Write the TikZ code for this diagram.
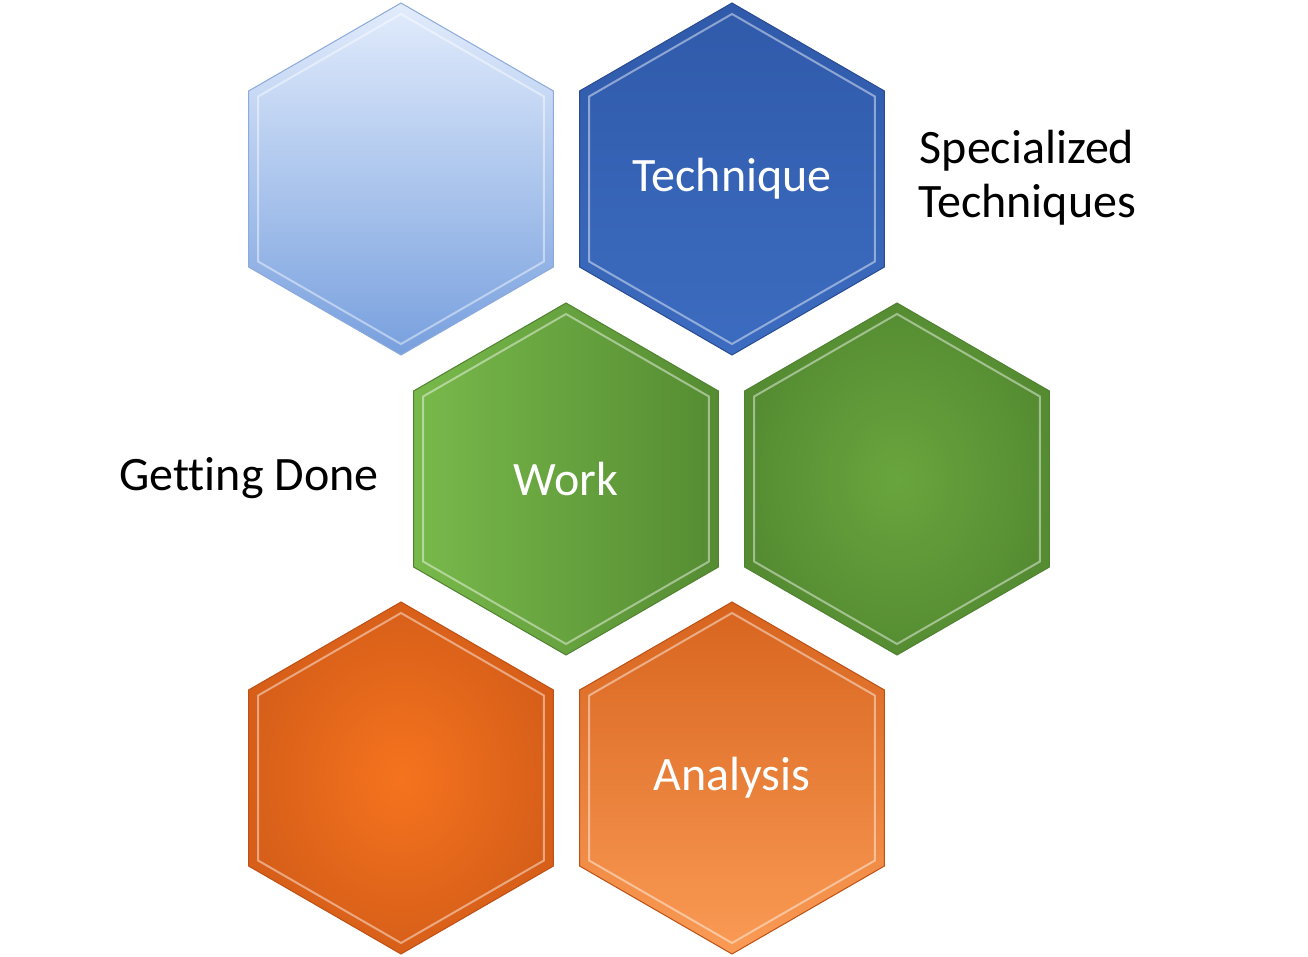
\documentclass[tikz,border=0pt]{standalone}
\usepackage{fontspec}
\setmainfont{Carlito}[Ligatures={NoCommon}]
\usetikzlibrary{shapes.geometric}
\definecolor{lbA}{RGB}{226,236,252}
\definecolor{lbB}{RGB}{120,160,222}
\definecolor{lbD}{RGB}{140,170,220}
\definecolor{dbA}{RGB}{48,90,170}
\definecolor{dbB}{RGB}{60,108,192}
\definecolor{dbD}{RGB}{40,75,145}
\definecolor{gA}{RGB}{120,185,75}
\definecolor{gB}{RGB}{85,140,50}
\definecolor{gC}{RGB}{105,165,62}
\definecolor{gD}{RGB}{80,130,50}
\definecolor{oA}{RGB}{245,115,30}
\definecolor{oB}{RGB}{215,95,25}
\definecolor{oC}{RGB}{215,100,30}
\definecolor{oE}{RGB}{250,155,85}
\definecolor{oD}{RGB}{190,80,20}
\begin{document}
\begin{tikzpicture}[x=1pt,y=-1pt,
 hex/.style={regular polygon,regular polygon sides=6,shape border rotate=30,minimum size=352pt,inner sep=0pt,draw=#1,line width=1pt,font=\fontsize{48}{54}\selectfont,text=white},
 bevel/.style={regular polygon,regular polygon sides=6,shape border rotate=30,minimum size=330pt,inner sep=0pt,draw=white,draw opacity=0.45,line width=2pt},
 lbl/.style={font=\fontsize{48}{54}\selectfont,align=center,text=black}]
\useasboundingbox (0,0) rectangle (1308,957);
\node[hex=lbD,top color=lbA,bottom color=lbB] (h1) at (401,179) {};
\node[hex=dbD,top color=dbA,bottom color=dbB] (h2) at (732,179) {Technique};
\node[hex=gD,left color=gA,right color=gB] (h3) at (566,479) {Work};
\node[hex=gD,inner color=gC,outer color=gB] (h4) at (897,479) {};
\node[hex=oD,inner color=oA,outer color=oB] (h5) at (401,778) {};
\node[hex=oD,top color=oC,bottom color=oE] (h6) at (732,778) {Analysis};
\foreach \n in {h1,h2,h3,h4,h5,h6} \node[bevel] at (\n.center) {};
\node[lbl] (t1) at (1027,178) {Specialized\\Techniques};
\node[lbl] (t2) at (249,478) {Getting Done};
\end{tikzpicture}
\end{document}
